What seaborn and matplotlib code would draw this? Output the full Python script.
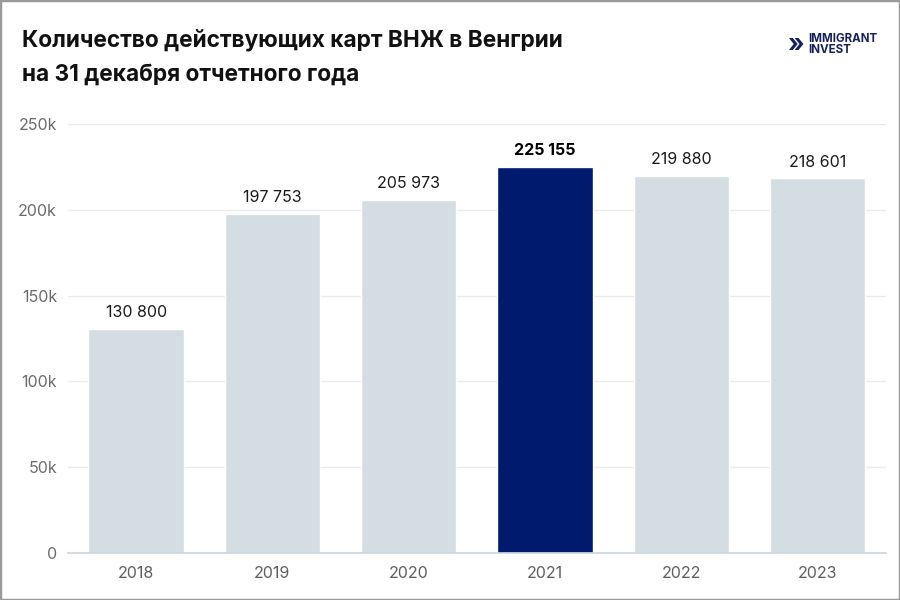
import matplotlib
matplotlib.use("Agg")
import matplotlib.pyplot as plt
import seaborn as sns
import pandas as pd
from matplotlib.patches import Rectangle

years = ["2018", "2019", "2020", "2021", "2022", "2023"]
values = [130800, 197753, 205973, 225155, 219880, 218601]
value_labels = ["130 800", "197 753", "205 973", "225 155", "219 880", "218 601"]
highlight_year = "2021"
y_ticks = [0, 50000, 100000, 150000, 200000, 250000]
y_tick_labels = ["0", "50k", "100k", "150k", "200k", "250k"]
title_lines = ["Количество действующих карт ВНЖ в Венгрии", "на 31 декабря отчетного года"]

sns.set_theme(style="white")
plt.rcParams['font.family'] = ['Inter', 'DejaVu Sans']

df = pd.DataFrame({"year": years, "value": values})
light = "#D4DEE2"
dark = "#001A6E"
palette = {y: (dark if y == highlight_year else light) for y in years}

fig = plt.figure(figsize=(9, 6), dpi=100)
ax = fig.add_axes([0.0756, 0.0783, 0.9084, 0.7150])
sns.barplot(data=df, x="year", y="value", hue="year", palette=palette,
            width=0.7, legend=False, ax=ax, saturation=1)

ax.set_ylim(0, 250000)
ax.set_yticks(y_ticks)
ax.set_yticklabels(y_tick_labels)
ax.set_xlabel("")
ax.set_ylabel("")
ax.grid(axis="y", color="#EBEBEB", linewidth=1)
ax.set_axisbelow(True)
for s in ["top", "right", "left"]:
    ax.spines[s].set_visible(False)
ax.spines["bottom"].set_color("#CDD5E0")
ax.spines["bottom"].set_linewidth(1.2)
ax.tick_params(axis="y", length=0, pad=8, labelsize=11.5, labelcolor="#6B6B6B")
ax.tick_params(axis="x", length=0, pad=9, labelsize=11.5, labelcolor="#5E5E5E")
ax.set_xlim(-0.5, len(years) - 0.5)

for i, (v, lab) in enumerate(zip(values, value_labels)):
    bold = years[i] == highlight_year
    ax.annotate(lab, (i, v), xytext=(0, 6), textcoords="offset points",
                ha="center", va="bottom", fontsize=11.5,
                fontweight="bold" if bold else "normal",
                color="#000000" if bold else "#1A1A1A")

fig.text(22 / 900, 1 - 40 / 600, title_lines[0], fontsize=16.3, fontweight="bold",
         color="#111111", va="center", ha="left")
fig.text(22 / 900, 1 - 75 / 600, title_lines[1], fontsize=16.3, fontweight="bold",
         color="#111111", va="center", ha="left")

# logo
fig.text(795 / 900, 1 - 45 / 600, "»", fontsize=18, fontweight="bold", color="#16215C",
         va="center", ha="center")
fig.text(808 / 900, 1 - 44.5 / 600, "IMMIGRANT\nINVEST", fontsize=8.3, fontweight="bold",
         color="#16215C", va="center", ha="left", linespacing=0.95)

fig.patches.append(Rectangle((0, 0), 1, 1, transform=fig.transFigure, fill=False,
                             edgecolor="#9A9A9A", linewidth=2.5, zorder=10))

fig.savefig("out.png", dpi=100)
